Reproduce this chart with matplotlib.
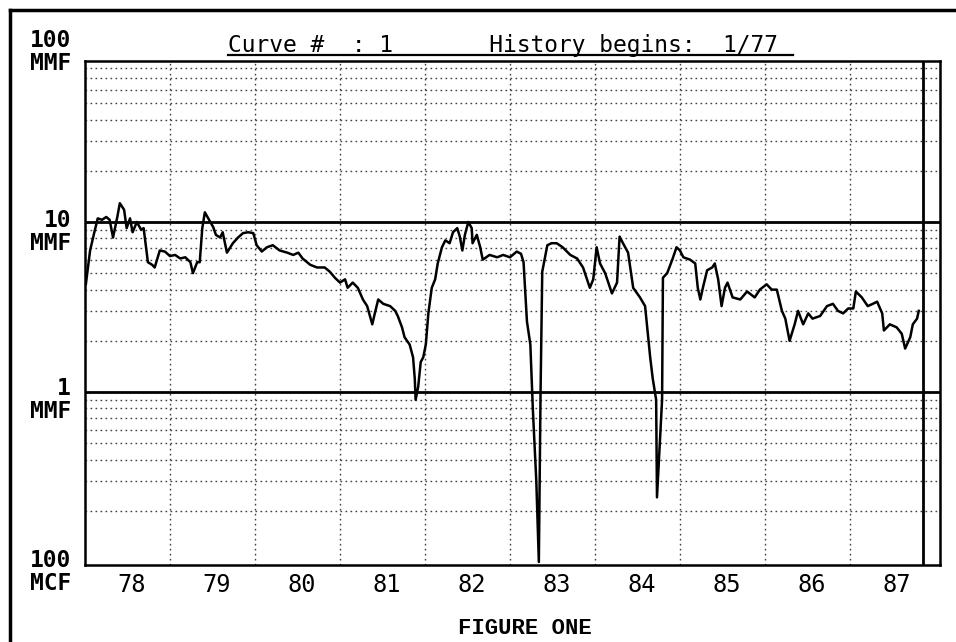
import numpy as np
import matplotlib
matplotlib.use('Agg')
import matplotlib.pyplot as plt
import matplotlib.transforms as mtrans
from matplotlib.lines import Line2D

# production history, decimal years vs MMF (log scale)
years = [78.01, 78.06, 78.11, 78.15, 78.20, 78.25, 78.29, 78.33, 78.38, 78.41,
         78.46, 78.49, 78.53, 78.56, 78.61, 78.66, 78.69, 78.74, 78.79, 78.82,
         78.88, 78.94, 79.00, 79.06, 79.12, 79.18, 79.24, 79.27, 79.32, 79.35,
         79.38, 79.41, 79.45, 79.51, 79.54, 79.59, 79.62, 79.67, 79.74, 79.80,
         79.86, 79.92, 79.98, 80.02, 80.08, 80.14, 80.21, 80.29, 80.38, 80.45,
         80.51, 80.56, 80.65, 80.73, 80.82, 80.88, 80.94, 81.00, 81.06, 81.09,
         81.15, 81.21, 81.27, 81.32, 81.38, 81.41, 81.45, 81.51, 81.59, 81.65,
         81.68, 81.73, 81.76, 81.82, 81.86, 81.88, 81.89, 81.92, 81.95, 81.98,
         82.01, 82.04, 82.08, 82.12, 82.15, 82.20, 82.24, 82.29, 82.33, 82.38,
         82.41, 82.44, 82.47, 82.51, 82.55, 82.56, 82.61, 82.65, 82.68, 82.76,
         82.85, 82.92, 83.00, 83.08, 83.13, 83.16, 83.20, 83.24, 83.27, 83.31,
         83.34, 83.35, 83.36, 83.38, 83.44, 83.49, 83.55, 83.62, 83.71, 83.79,
         83.86, 83.94, 83.98, 84.02, 84.06, 84.12, 84.20, 84.26, 84.29, 84.33,
         84.39, 84.45, 84.53, 84.59, 84.65, 84.68, 84.72, 84.73, 84.79, 84.80,
         84.85, 84.91, 84.96, 85.00, 85.04, 85.12, 85.18, 85.21, 85.24, 85.27,
         85.32, 85.38, 85.41, 85.45, 85.49, 85.53, 85.56, 85.62, 85.71, 85.79,
         85.88, 85.94, 86.02, 86.08, 86.14, 86.20, 86.24, 86.29, 86.35, 86.39,
         86.45, 86.51, 86.56, 86.65, 86.73, 86.80, 86.86, 86.92, 86.98, 87.04,
         87.07, 87.14, 87.21, 87.27, 87.32, 87.38, 87.40, 87.47, 87.55, 87.61,
         87.65, 87.71, 87.74, 87.79, 87.81]
mmf = [4.3, 6.8, 8.7, 10.5, 10.3, 10.7, 10.3, 8.1, 10.7, 12.9,
       11.8, 9.2, 10.5, 8.7, 10.0, 9.0, 9.2, 5.8, 5.6, 5.4,
       6.8, 6.7, 6.3, 6.4, 6.1, 6.2, 5.8, 5.0, 5.8, 5.8,
       9.2, 11.4, 10.5, 9.3, 8.4, 8.1, 8.7, 6.6, 7.5, 8.1,
       8.6, 8.7, 8.6, 7.3, 6.7, 7.1, 7.3, 6.8, 6.6, 6.4,
       6.6, 6.1, 5.6, 5.4, 5.4, 5.1, 4.7, 4.4, 4.6, 4.1,
       4.4, 4.1, 3.5, 3.2, 2.5, 2.9, 3.5, 3.3, 3.2, 3.0,
       2.8, 2.4, 2.1, 1.9, 1.6, 1.2, 0.90, 1.07, 1.5, 1.6,
       1.9, 2.9, 4.1, 4.6, 5.7, 7.1, 7.8, 7.5, 8.7, 9.2,
       8.2, 6.8, 8.4, 10.0, 9.2, 7.5, 8.4, 7.1, 6.0, 6.4,
       6.2, 6.4, 6.2, 6.7, 6.5, 5.8, 2.6, 1.9, 0.78, 0.30,
       0.10, 0.30, 0.99, 5.1, 7.3, 7.5, 7.5, 7.1, 6.4, 6.1,
       5.4, 4.1, 4.6, 7.1, 5.7, 5.0, 3.8, 4.4, 8.2, 7.5,
       6.6, 4.1, 3.6, 3.2, 1.6, 1.2, 0.90, 0.24, 0.90, 4.7,
       5.0, 6.0, 7.1, 6.8, 6.2, 6.0, 5.7, 4.1, 3.5, 4.1,
       5.2, 5.4, 5.7, 4.6, 3.2, 4.1, 4.4, 3.6, 3.5, 3.9,
       3.6, 4.0, 4.3, 4.0, 4.0, 3.0, 2.7, 2.0, 2.5, 3.0,
       2.5, 2.9, 2.7, 2.8, 3.2, 3.3, 3.0, 2.9, 3.1, 3.1,
       3.9, 3.6, 3.2, 3.3, 3.4, 2.9, 2.3, 2.5, 2.4, 2.2,
       1.8, 2.1, 2.5, 2.7, 3.0]

year_labels = ['78', '79', '80', '81', '82', '83', '84', '85', '86', '87']
decades = [100, 10, 1, 0.1]
decade_labels = ['100\nMMF', '10\nMMF', '1\nMMF', '100\nMCF']

W, H = 956, 642
mono = 'DejaVu Sans Mono'

fig = plt.figure(figsize=(W / 100, H / 100), dpi=100)
fig.patch.set_facecolor('white')
ax = fig.add_axes([85 / W, 1 - 565 / H, 855 / W, 504 / H])
ax.set_yscale('log')
ax.set_xlim(78, 88.06)
ax.set_ylim(0.096, 88.5)

# dotted grid
dots = (0, (1.2, 2.4))
for d in [0.1, 1, 10]:
    for k in range(2, 10):
        ax.axhline(d * k, color='0.25', lw=1.0, ls=dots, zorder=1)
for yr in range(79, 88):
    ax.axvline(yr, color='0.25', lw=1.0, ls=dots, zorder=1)

# decade lines
for d in [1, 10]:
    ax.axhline(d, color='black', lw=2.0, zorder=2)
ax.axvline(87.86, color='black', lw=2.0, zorder=2)

ax.plot(years, mmf, color='black', lw=1.8, zorder=3)

for s in ax.spines.values():
    s.set_linewidth(1.8)
    s.set_color('black')

ax.set_yticks([])
ax.yaxis.set_minor_locator(matplotlib.ticker.NullLocator())
ax.set_xticks(np.arange(len(year_labels)) + 78.55)
ax.set_xticklabels(year_labels, fontfamily=mono, fontsize=17)
ax.tick_params(axis='x', length=0, pad=6)

# decade labels at left
trans = mtrans.blended_transform_factory(ax.transAxes, ax.transData)
offs = [0, -7, -6, -7]
for v, lab, o in zip(decades, decade_labels, offs):
    ax.annotate(lab, xy=(0, v), xycoords=trans, xytext=(-10, o),
                textcoords='offset points', ha='right', va='center',
                multialignment='right', fontfamily=mono, fontsize=16.5,
                fontweight='bold', linespacing=1.0, annotation_clip=False)

# header
fig.text(228 / W, 1 - 52 / H, 'Curve #  : 1       History begins:  1/77',
         fontfamily=mono, fontsize=16.5, ha='left', va='baseline')
fig.add_artist(Line2D([228 / W, 793 / W], [1 - 55 / H, 1 - 55 / H],
                      transform=fig.transFigure, color='black', lw=1.6))

# outer frame
fig.add_artist(Line2D([10 / W, 10 / W], [0, 1 - 10 / H],
                      transform=fig.transFigure, color='black', lw=2.5))
fig.add_artist(Line2D([10 / W, 1], [1 - 10 / H, 1 - 10 / H],
                      transform=fig.transFigure, color='black', lw=2.5))

fig.text(525 / W, 1 - 628 / H, 'FIGURE ONE', fontfamily='Liberation Mono',
         fontsize=16, fontweight='bold', ha='center', va='center')

fig.savefig('out.png', dpi=100)
